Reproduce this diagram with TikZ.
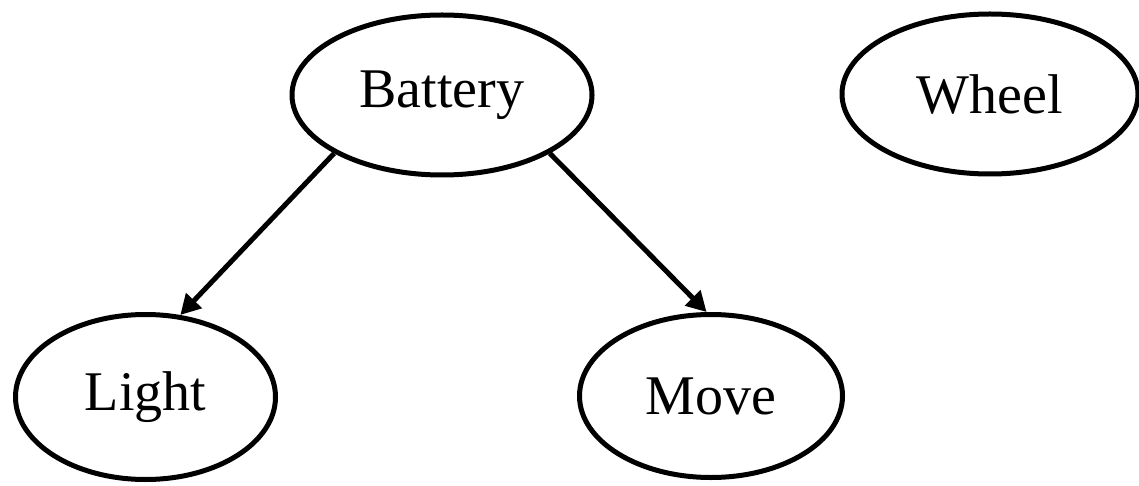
\documentclass[tikz,border=0pt]{standalone}
\usepackage{fontspec}
\setmainfont{Liberation Serif}
\usetikzlibrary{shapes.geometric,arrows.meta}
\begin{document}
\begin{tikzpicture}[x=1pt,y=-1pt,
  ell/.style={draw,ellipse,line width=5pt,inner sep=0pt,font=\fontsize{56}{64}\selectfont},
  arr/.style={line width=5pt,-{Triangle[length=20pt,width=21pt]}}]
\useasboundingbox (0,0) rectangle (1139,486);
\node[ell,minimum width=300pt,minimum height=160pt] (battery) at (442,95) {Battery};
\node[ell,minimum width=296pt,minimum height=160pt] (wheel) at (990,94) {Wheel};
\node[ell,minimum width=260pt,minimum height=165pt] (light) at (145.5,397) {Light};
\node[ell,minimum width=263pt,minimum height=163pt] (move) at (711,396) {Move};
\draw[arr] (battery.south west) -- (light.67);
\draw[arr] (battery.south east) -- (move.93);
\end{tikzpicture}
\end{document}
